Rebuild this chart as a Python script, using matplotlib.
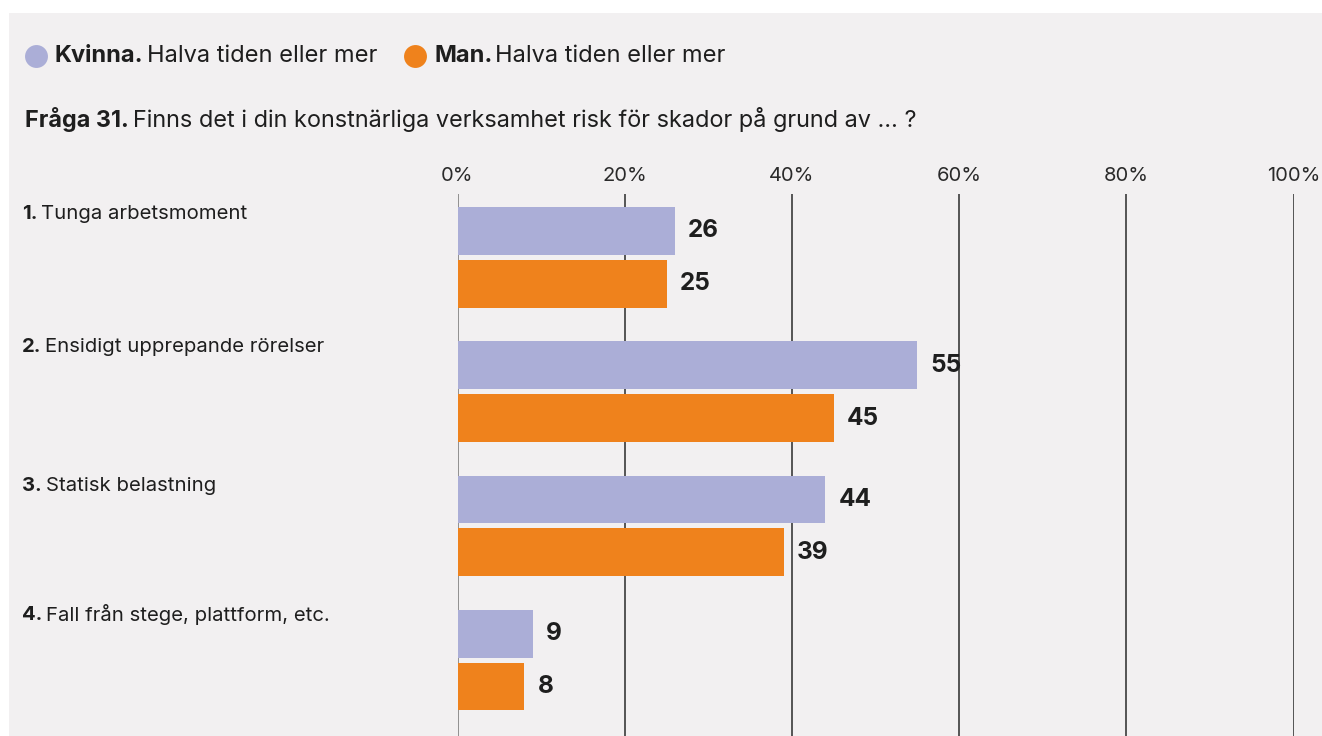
import matplotlib
matplotlib.use("Agg")
import matplotlib.pyplot as plt
from matplotlib.patches import Rectangle
from matplotlib.lines import Line2D

# ---- data ----
categories = ["Tunga arbetsmoment", "Ensidigt upprepande rörelser",
              "Statisk belastning", "Fall från stege, plattform, etc."]
category_nums = ["1.", "2.", "3.", "4."]
kvinna = [26, 55, 44, 9]
man = [25, 45, 39, 8]
x_ticks = [0, 20, 40, 60, 80, 100]
x_tick_labels = ["0%", "20%", "40%", "60%", "80%", "100%"]
series_names = ["Kvinna.", "Man."]
series_suffix = "Halva tiden eller mer"
title_bold = "Fråga 31."
title_rest = "Finns det i din konstnärliga verksamhet risk för skador på grund av … ?"

# ---- style ----
W, H = 1322, 736
BG = "#f2f0f1"
C_K = "#abaed7"
C_M = "#ef821c"
TXT = "#1e1e1e"
FONT = "Inter"
plt.rcParams["font.family"] = [FONT, "DejaVu Sans"]

fig = plt.figure(figsize=(W / 100, H / 100), dpi=100, facecolor="white")
fig.patches.append(Rectangle((9 / W, 0), (W - 9) / W, (H - 13) / H,
                             transform=fig.transFigure, facecolor=BG,
                             edgecolor="none", zorder=-10))

x0_px, x1_px = 457.5, 1293.5
top_px = 194
ax = fig.add_axes([x0_px / W, 0, (x1_px - x0_px) / W, (H - top_px) / H])
ax.set_facecolor("none")
for s in ax.spines.values():
    s.set_visible(False)
ax.set_xticks([])
ax.set_yticks([])

period = 134.3
center0 = 257.3
ax.set_xlim(0, 100)
ax.set_ylim((H - center0) / period, (top_px - center0) / period)

off = 26.4 / period
bh = 47.7 / period
ypos = list(range(len(categories)))

# gridlines
for t in x_ticks:
    ax.axvline(t, color="#808080" if t == 0 else "#3a3a3a", lw=1.2, zorder=1)

ax.barh([y - off for y in ypos], kvinna, height=bh, color=C_K, zorder=2)
ax.barh([y + off for y in ypos], man, height=bh, color=C_M, zorder=2)

px_per_unit = (x1_px - x0_px) / 100
for y, v in zip(ypos, kvinna):
    ax.text(v + 13 / px_per_unit, y - off, str(v), va="center", ha="left",
            fontsize=17.5, fontweight="bold", color=TXT, zorder=3)
for y, v in zip(ypos, man):
    ax.text(v + 13 / px_per_unit, y + off, str(v), va="center", ha="left",
            fontsize=17.5, fontweight="bold", color=TXT, zorder=3)

# tick labels
for t, lab in zip(x_ticks, x_tick_labels):
    ax.text(t, 1 + 18 / (H - top_px), lab, transform=ax.get_xaxis_transform(),
            ha="center", va="center", fontsize=14.5, color="#2a2a2a", clip_on=False)

renderer = fig.canvas.get_renderer()


def rich(x_px, y_px, parts, size, gap=4):
    x = x_px
    for txt, weight in parts:
        t = fig.text(x / W, 1 - y_px / H, txt, fontsize=size, fontweight=weight,
                     color=TXT, ha="left", va="center")
        bb = t.get_window_extent(renderer=renderer)
        x += bb.width + gap
    return x


# category labels
label_nudge = [7, 6, 10, 5]
for i, (n, c) in enumerate(zip(category_nums, categories)):
    y_px = center0 + period * i - off * period - bh * period / 2 + label_nudge[i]
    rich(22, y_px, [(n, "bold"), (c, "normal")], 14.6, gap=4)

# title
rich(25, 120, [(title_bold, "bold"), (title_rest, "normal")], 16.9, gap=4)

# legend
leg_y = 55.5
for name, col, start in zip(series_names, [C_K, C_M], [25, 404]):
    fig.add_artist(Line2D([(start + 11) / W], [1 - leg_y / H], marker="o",
                          markersize=16.5, markerfacecolor=col,
                          markeredgecolor="none", linestyle="none",
                          transform=fig.transFigure))
    rich(start + 30, leg_y, [(name, "bold"), (series_suffix, "normal")], 17, gap=3)

fig.savefig("out.png", dpi=100, facecolor="white")
